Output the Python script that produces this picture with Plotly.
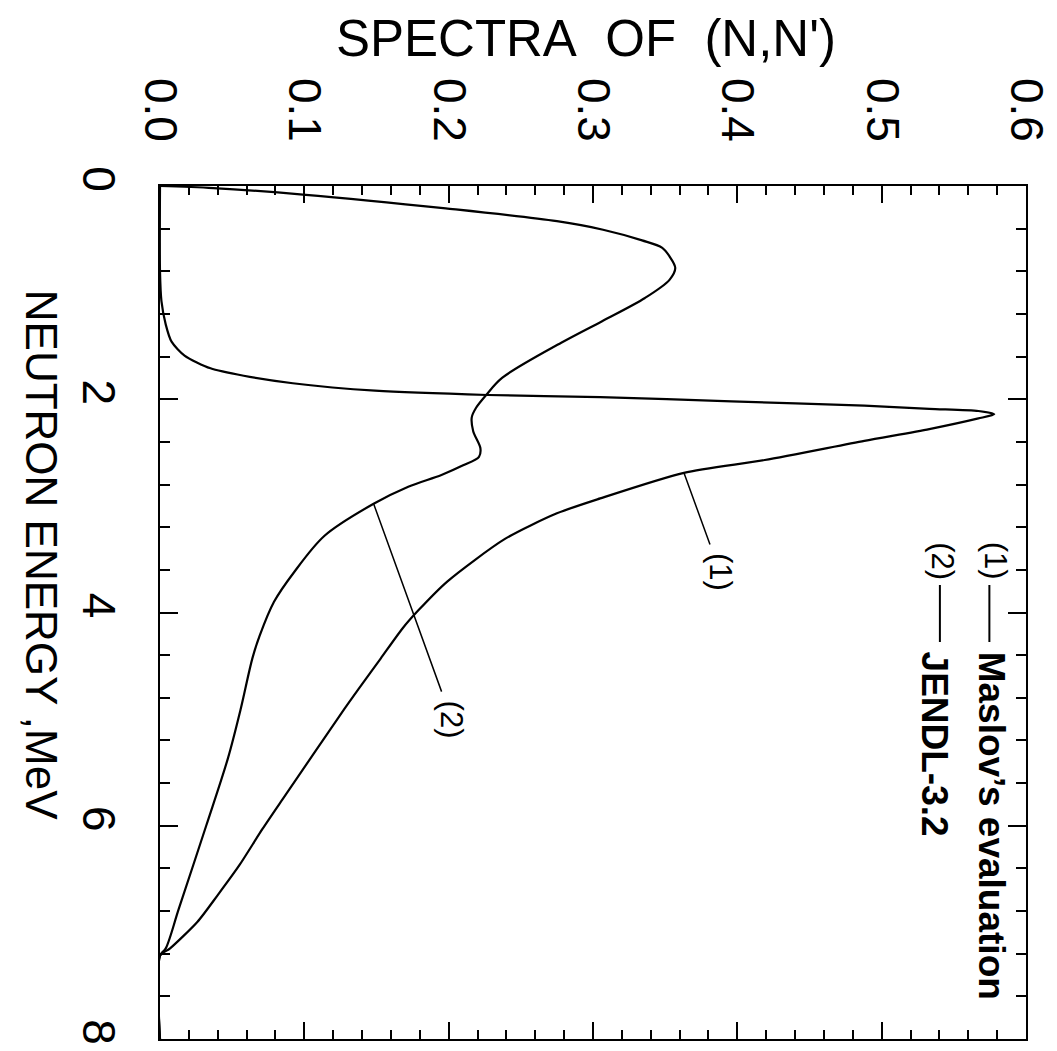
import numpy as np
import plotly.graph_objects as go

# ---------------- data ----------------
# Curve (1): Maslov's evaluation
maslov_E = [0.0, 0.8, 1.08, 1.30, 1.46, 1.59, 1.71, 1.78, 1.85, 1.92, 1.96, 1.98,
            2.02, 2.06, 2.09, 2.11, 2.14, 2.18, 2.28, 2.39, 2.57, 2.69, 2.93, 3.07,
            3.31, 3.71, 3.98, 4.15, 4.43, 4.71, 4.90, 5.75, 6.03, 6.37, 6.65, 6.90,
            7.15, 7.22, 8.0]
maslov_S = [0.0, 0.0, 0.001, 0.004, 0.008, 0.017, 0.035, 0.058, 0.092, 0.149, 0.227, 0.305,
            0.396, 0.488, 0.533, 0.567, 0.578, 0.567, 0.533, 0.488, 0.419, 0.363, 0.305, 0.275,
            0.239, 0.199, 0.179, 0.168, 0.153, 0.138, 0.128, 0.085, 0.071, 0.055, 0.040, 0.026,
            0.007, 0.0, 0.0]

# Curve (2): JENDL-3.2
jendl_E = [0.0, 0.02, 0.08, 0.21, 0.33, 0.41, 0.51, 0.58, 0.66, 0.77, 0.88, 1.05,
           1.27, 1.47, 1.80, 1.96, 2.08, 2.17, 2.30, 2.46, 2.54, 2.62, 2.71, 2.82,
           2.98, 3.28, 3.62, 3.90, 4.22, 4.43, 4.90, 5.37, 6.0, 6.78, 7.15, 7.22, 8.0]
jendl_S = [0.0, 0.037, 0.099, 0.198, 0.275, 0.307, 0.334, 0.348, 0.353, 0.357, 0.353, 0.336,
           0.306, 0.278, 0.237, 0.226, 0.219, 0.216, 0.217, 0.222, 0.221, 0.210, 0.195, 0.172,
           0.148, 0.114, 0.093, 0.079, 0.069, 0.064, 0.056, 0.047, 0.032, 0.013, 0.004, 0.0, 0.0]

spectra_ticks = [0.0, 0.1, 0.2, 0.3, 0.4, 0.5, 0.6]
spectra_labels = ["0.0", "0.1", "0.2", "0.3", "0.4", "0.5", "0.6"]
energy_ticks = [0, 2, 4, 6, 8]
energy_labels = ["0", "2", "4", "6", "8"]

# label callouts: (curve energy where leader touches, label position)
callout1 = dict(E=2.69, label_s=0.388, label_E=3.62, text="(1)")
callout2 = dict(E=2.98, label_s=0.202, label_E=5.00, text="(2)")

FONT = "Liberation Sans, Arial, Helvetica, sans-serif"
W, H = 1057, 1051
ML, MR, MT, MB = 152, 30, 178, 20

fig = go.Figure()
fig.add_trace(go.Scatter(x=maslov_S, y=maslov_E, mode="lines",
                         line=dict(color="black", width=2.2, shape="spline", smoothing=0.7),
                         name="Maslov's evaluation"))
fig.add_trace(go.Scatter(x=jendl_S, y=jendl_E, mode="lines",
                         line=dict(color="black", width=2.2, shape="spline", smoothing=0.9),
                         name="JENDL-3.2"))

fig.update_layout(
    width=W, height=H,
    margin=dict(l=ML, r=MR, t=MT, b=MB, pad=0),
    paper_bgcolor="white", plot_bgcolor="white",
    showlegend=False,
    font=dict(family=FONT, color="black"),
)

fig.update_xaxes(
    range=[0, 0.6], side="top", showgrid=False, zeroline=False,
    showline=True, linecolor="black", linewidth=2, mirror="allticks",
    tickmode="array", tickvals=spectra_ticks, ticktext=spectra_labels,
    ticks="inside", ticklen=17, tickwidth=2, tickcolor="black",
    tickangle=90, tickfont=dict(size=46, family=FONT, color="black"),
    ticklabelstandoff=26,
    minor=dict(dtick=0.02, ticks="inside", ticklen=9, tickwidth=1.5, tickcolor="black", showgrid=False),
)
fig.update_yaxes(
    range=[8, 0], showgrid=False, zeroline=False,
    showline=True, linecolor="black", linewidth=2, mirror="allticks",
    tickmode="array", tickvals=energy_ticks, ticktext=energy_labels,
    ticks="inside", ticklen=18, tickwidth=2, tickcolor="black",
    tickangle=90, tickfont=dict(size=46, family=FONT, color="black"),
    ticklabelstandoff=20,
    minor=dict(dtick=0.4, ticks="inside", ticklen=10, tickwidth=1.5, tickcolor="black", showgrid=False),
)

pw, ph = W - ML - MR, H - MT - MB
def px(xp):
    return (xp - ML) / pw
def py(yp):
    return 1 - (yp - MT) / ph

# axis titles
fig.add_annotation(text="SPECTRA\u00a0\u00a0OF\u00a0\u00a0(N,N')", xref="paper", yref="paper",
                   x=px(328), y=py(31), xanchor="left", yanchor="middle", showarrow=False,
                   font=dict(size=51, family=FONT, color="black"))
fig.add_annotation(text="NEUTRON ENERGY ,MeV", xref="paper", yref="paper",
                   x=px(33), y=py(547), xanchor="center", yanchor="middle", showarrow=False,
                   textangle=90, font=dict(size=44, family=FONT, color="black"))

# curve callouts with leader lines
for c, (E, S) in ((callout1, (maslov_E, maslov_S)), (callout2, (jendl_E, jendl_S))):
    tip_s = float(np.interp(c["E"], E, S))
    fig.add_annotation(text=c["text"], x=tip_s, y=c["E"], xref="x", yref="y",
                       axref="x", ayref="y", ax=c["label_s"], ay=c["label_E"],
                       showarrow=True, arrowhead=0, arrowwidth=1.5, arrowcolor="black",
                       borderpad=8, textangle=90,
                       font=dict(size=31, family=FONT, color="black"))

# legend block
legend_rows = [("(1)", "Maslov\u2019s evaluation", 997, 990, 993),
               ("(2)", "JENDL-3.2", 943, 940, 935)]
for num, label, xn, xl, xt in legend_rows:
    fig.add_annotation(text=num, xref="paper", yref="paper", x=px(xn), y=py(553),
                       xanchor="center", yanchor="middle", showarrow=False, textangle=90,
                       font=dict(size=31, family=FONT, color="black"))
    fig.add_shape(type="line", xref="paper", yref="paper",
                  x0=px(xl), x1=px(xl), y0=py(577), y1=py(634),
                  line=dict(color="black", width=2))
    fig.add_annotation(text="<b>" + label + "</b>", xref="paper", yref="paper",
                       x=px(xt), y=py(642), xanchor="center", yanchor="top",
                       showarrow=False, textangle=90,
                       font=dict(size=37, family=FONT, color="black"))

fig.write_html("out.html")
